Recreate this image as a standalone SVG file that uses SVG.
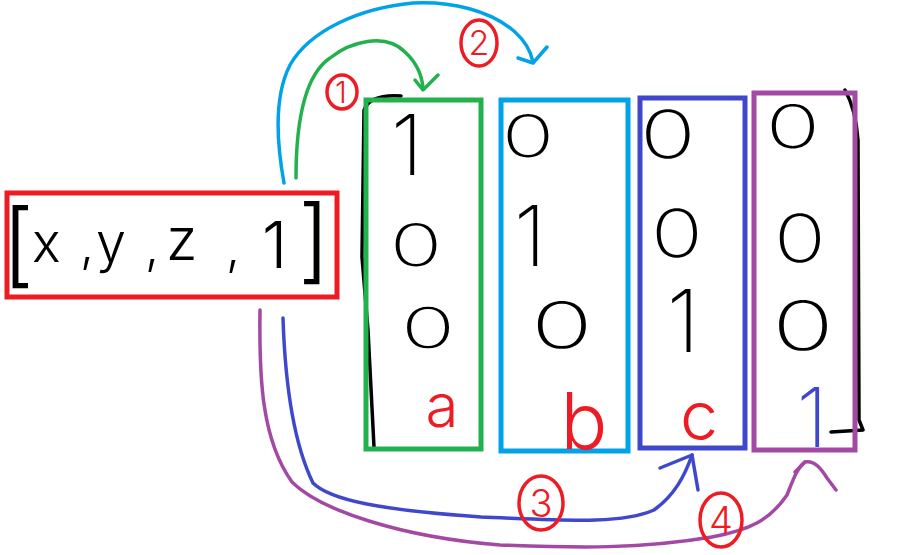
<svg xmlns="http://www.w3.org/2000/svg" width="901" height="555" viewBox="0 0 901 555">
<style>
.box{fill:none;stroke-width:5}
.ink{fill:none;stroke-width:3.5;stroke-linecap:round;stroke-linejoin:round}
.d{font-family:Inter,"Liberation Sans",Arial,sans-serif;font-weight:200;fill:#000;text-anchor:middle}
.lbl{font-family:Inter,"Liberation Sans",Arial,sans-serif;font-weight:300;fill:#ED1C24;text-anchor:middle}
.vec{font-family:Inter,"Liberation Sans",Arial,sans-serif;font-weight:300;fill:#000}
</style>
<rect width="901" height="555" fill="#fff"/>

<g id="vector">
<rect class="box" x="7" y="193" width="330" height="104" stroke="#ED1C24"/>
<text class="vec" x="2" y="276" font-size="92">[</text>
<text class="vec" x="32" y="262" font-size="54">x</text>
<text class="vec" x="80" y="262" font-size="50">,</text>
<text class="vec" x="96" y="262" font-size="54">y</text>
<text class="vec" x="145" y="264" font-size="50">,</text>
<text class="vec" x="166" y="260" font-size="58">z</text>
<text class="vec" x="226" y="265" font-size="50">,</text>
<text class="vec" x="262" y="268" font-size="64">1</text>
<text class="vec" x="298" y="272" font-size="92">]</text>
</g>

<g id="matrix-brackets">
<path class="ink" stroke="#000" d="M401,96 Q370,94 364,110 L362,257 L368,330 L374,447"/>
<path class="ink" stroke="#000" d="M845,90 Q856,110 858,140 L859,420 L863,430 L831,432"/>
</g>

<g id="col-a">
<rect class="box" x="366" y="100" width="115" height="349" stroke="#22B14C"/>
<text class="d" x="407" y="175" font-size="84">1</text>
<text class="d" transform="translate(416,266) scale(1.5,1)" font-size="58">0</text>
<text class="d" transform="translate(428,348) scale(1.6,1)" font-size="56">0</text>
<text class="lbl" x="442" y="427" font-size="60">a</text>
</g>

<g id="col-b">
<rect class="box" x="501" y="100" width="127" height="351" stroke="#00A2E8"/>
<text class="d" transform="translate(528,157) scale(1.5,1)" font-size="58">0</text>
<text class="d" x="530" y="266" font-size="84">1</text>
<text class="d" transform="translate(562,348) scale(1.6,1)" font-size="64">0</text>
<text class="lbl" x="584" y="449" font-size="78">b</text>
</g>

<g id="col-c">
<rect class="box" x="640" y="98" width="105" height="350" stroke="#3F48CC"/>
<text class="d" transform="translate(668,158) scale(1.4,1)" font-size="66">0</text>
<text class="d" transform="translate(677,257) scale(1.3,1)" font-size="66">0</text>
<text class="d" x="683" y="352" font-size="86">1</text>
<text class="lbl" x="699" y="440" font-size="68">c</text>
</g>

<g id="col-d">
<rect class="box" x="754" y="93" width="101" height="357" stroke="#A349A4"/>
<text class="d" transform="translate(793,148) scale(1.5,1)" font-size="60">0</text>
<text class="d" transform="translate(800,262) scale(1.3,1)" font-size="66">0</text>
<text class="d" transform="translate(803,350) scale(1.5,1)" font-size="68">0</text>
<text class="d" x="812" y="447" font-size="82" style="fill:#3F48CC">1</text>
</g>

<g id="connectors">
<path class="ink" stroke="#22B14C" d="M296,178 C296,120 305,75 330,58 C350,42 385,32 405,52 C418,64 422,76 423,88"/>
<path class="ink" stroke="#22B14C" d="M415,80 L423,90 L438,75"/>
<path class="ink" stroke="#00A2E8" d="M284,183 C278,150 272,100 290,65 C310,30 360,8 413,3 C450,1 490,10 515,32 C526,42 531,52 533,62"/>
<path class="ink" stroke="#00A2E8" d="M518,58 L533,63 L547,47"/>
<path class="ink" stroke="#3F48CC" d="M283,318 C285,380 292,440 313,483 C330,500 380,510 481,517 C560,520 620,525 654,510 C675,495 685,475 692,455"/>
<path class="ink" stroke="#3F48CC" d="M660,468 L692,455 L698,490"/>
<path class="ink" stroke="#A349A4" d="M260,310 C259,380 262,440 292,482 C320,510 400,537 500,545 C580,548 640,549 712,537 C750,530 770,520 787,495 C793,480 797,468 805,462 C815,460 822,470 827,478 L836,490"/>
<path class="ink" stroke="#A349A4" d="M795,472 L805,462"/>
</g>

<g id="step-labels">
<ellipse class="ink" stroke="#ED1C24" cx="342" cy="92" rx="15" ry="17"/>
<text class="lbl" x="341" y="103" font-size="30">1</text>
<ellipse class="ink" stroke="#ED1C24" cx="479" cy="43" rx="18" ry="23"/>
<text class="lbl" x="479" y="55" font-size="34">2</text>
<ellipse class="ink" stroke="#ED1C24" cx="541" cy="503" rx="22" ry="27"/>
<text class="lbl" x="541" y="517" font-size="38">3</text>
<ellipse class="ink" stroke="#ED1C24" cx="721" cy="520" rx="21" ry="27"/>
<text class="lbl" x="721" y="534" font-size="38">4</text>
</g>
</svg>
